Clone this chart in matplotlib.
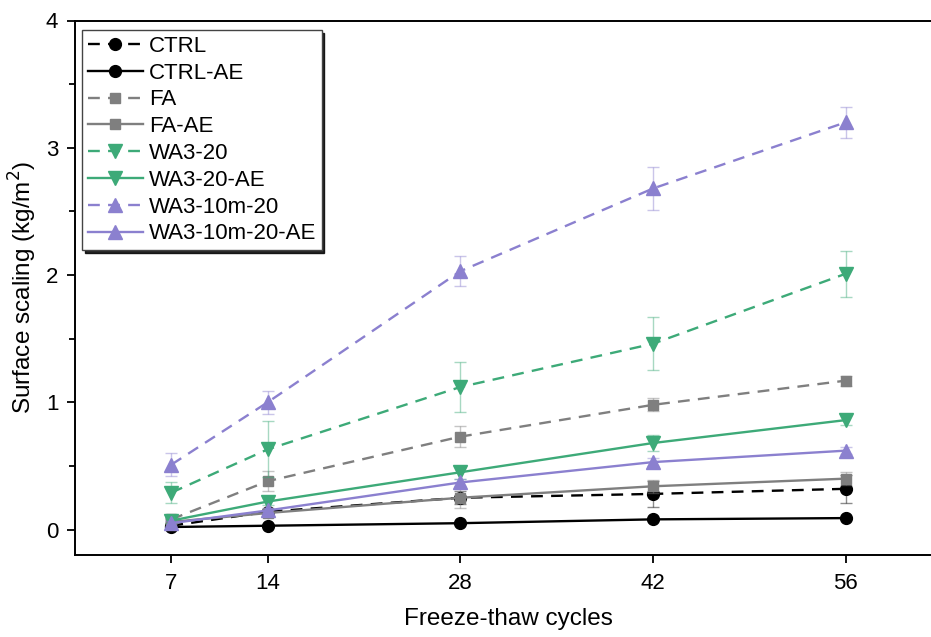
import numpy as np
import matplotlib
matplotlib.use("Agg")
import matplotlib.pyplot as plt
from matplotlib.ticker import MultipleLocator

plt.rcParams['font.family'] = ['Liberation Sans', 'DejaVu Sans']

cycles = [7, 14, 28, 42, 56]

ctrl = [0.03, 0.14, 0.25, 0.28, 0.32]
ctrl_err = [0.01, 0.02, 0.05, 0.10, 0.11]
ctrl_ae = [0.02, 0.03, 0.05, 0.08, 0.09]
ctrl_ae_err = [0.01, 0.01, 0.01, 0.01, 0.01]
fa = [0.08, 0.38, 0.73, 0.98, 1.17]
fa_err = [0.02, 0.08, 0.08, 0.05, 0.04]
fa_ae = [0.06, 0.13, 0.25, 0.34, 0.40]
fa_ae_err = [0.02, 0.03, 0.08, 0.05, 0.05]
wa = [0.29, 0.63, 1.12, 1.46, 2.01]
wa_err = [0.08, 0.22, 0.20, 0.21, 0.18]
wa_ae = [0.07, 0.22, 0.45, 0.68, 0.86]
wa_ae_err = [0.02, 0.03, 0.05, 0.06, 0.04]
wa10 = [0.51, 1.00, 2.03, 2.68, 3.20]
wa10_err = [0.09, 0.09, 0.12, 0.17, 0.12]
wa10_ae = [0.05, 0.15, 0.37, 0.53, 0.62]
wa10_ae_err = [0.02, 0.02, 0.03, 0.03, 0.03]

black = "#000000"
gray = "#7f7f7f"
green = "#3daa78"
purple = "#8b80cf"

series = [
    ("CTRL", ctrl, ctrl_err, black, "o", "dash"),
    ("CTRL-AE", ctrl_ae, ctrl_ae_err, black, "o", "solid"),
    ("FA", fa, fa_err, gray, "s", "dash"),
    ("FA-AE", fa_ae, fa_ae_err, gray, "s", "solid"),
    ("WA3-20", wa, wa_err, green, "v", "dash"),
    ("WA3-20-AE", wa_ae, wa_ae_err, green, "v", "solid"),
    ("WA3-10m-20", wa10, wa10_err, purple, "^", "dash"),
    ("WA3-10m-20-AE", wa10_ae, wa10_ae_err, purple, "^", "solid"),
]

fig = plt.figure(figsize=(9.31, 6.37), dpi=100)
ax = fig.add_axes([75 / 931, 82 / 637, (942 - 75) / 931, (555 - 20.5) / 637])

for name, vals, err, col, mk, ls in series:
    style = (0, (5, 3.5)) if ls == "dash" else "-"
    ms = 8.5 if mk == "o" else (7.5 if mk == "s" else 9.5)
    ax.errorbar(cycles, vals, yerr=err, fmt="none", ecolor=col, alpha=0.45,
                elinewidth=1, capsize=4, capthick=1)
    ax.plot(cycles, vals, color=col, linestyle=style, linewidth=1.7,
            marker=mk, markersize=ms, label=name)

ax.set_xlim(0, 63)
ax.set_ylim(-0.2, 4)
ax.set_xticks(cycles)
ax.yaxis.set_major_locator(MultipleLocator(1))
ax.yaxis.set_minor_locator(MultipleLocator(0.5))
ax.tick_params(axis="both", which="major", direction="out", length=6, width=1.3,
               labelsize=16)
ax.tick_params(axis="x", which="major", pad=7)
ax.tick_params(axis="y", which="major", pad=6)
ax.tick_params(axis="y", which="minor", direction="out", length=4, width=1.3)
for s in ax.spines.values():
    s.set_linewidth(1.4)

ax.set_xlabel("Freeze-thaw cycles", fontsize=17.5, labelpad=10)
ax.set_ylabel("Surface scaling (kg/m$^2$)", fontsize=17.5, labelpad=5)

leg = ax.legend(loc="upper left", bbox_to_anchor=(0.003, 0.99), fontsize=16,
                frameon=True, fancybox=False, shadow={"color": "k", "alpha": 0.85},
                edgecolor="#444444", handlelength=2.5, handletextpad=0.25,
                labelspacing=0.26, borderpad=0.25, borderaxespad=0.2)
leg.get_frame().set_linewidth(1.0)

fig.savefig("out.png", dpi=100)
